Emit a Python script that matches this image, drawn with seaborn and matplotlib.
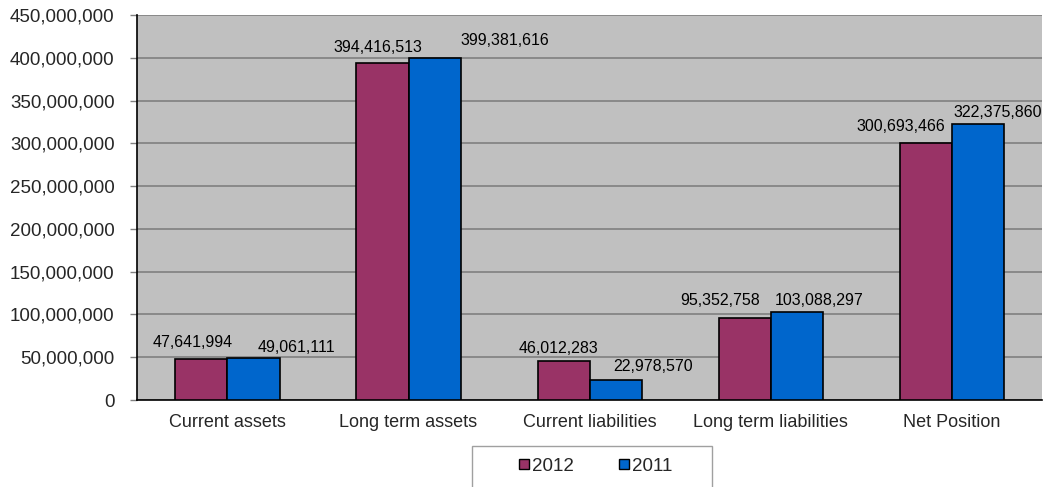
import pandas as pd
import seaborn as sns
import matplotlib.pyplot as plt
from matplotlib.ticker import FuncFormatter, FixedLocator
from matplotlib.patches import Patch, Rectangle

# Data
categories = ["Current assets", "Long term assets", "Current liabilities",
              "Long term liabilities", "Net Position"]
years = ["2012", "2011"]
values_2012 = [47641994, 394416513, 46012283, 95352758, 300693466]
values_2011 = [49061111, 399381616, 22978570, 103088297, 322375860]

df = pd.DataFrame({
    "category": categories * 2,
    "year": [years[0]] * 5 + [years[1]] * 5,
    "value": values_2012 + values_2011,
})

palette = {"2012": "#993366", "2011": "#0066CC"}

# label offsets in pixels (dx, dy) relative to top centre of each bar
label_offsets = {
    "2012": [(-9, 17), (-5, 15), (-5, 12), (-25, 18), (-25, 16)],
    "2011": [(43, 11), (70, 18), (37, 14), (22, 11), (20, 12)],
}

sns.set_style("white")
plt.rcParams['font.family'] = ['Liberation Sans', 'DejaVu Sans']

fig = plt.figure(figsize=(10.43, 4.87), dpi=100)
ax = fig.add_axes([0.1313, 0.1786, 0.868, 0.7906])
ax.set_facecolor("#C0C0C0")

sns.barplot(data=df, x="category", y="value", hue="year", hue_order=years,
            order=categories, palette=palette, width=0.575, saturation=1,
            edgecolor="black", linewidth=1.2, legend=False, ax=ax, zorder=3)

ax.set_ylim(0, 450000000)
ax.set_xlim(-0.5, 4.5)
ax.yaxis.set_major_locator(FixedLocator(range(0, 450000001, 50000000)))
ax.yaxis.set_major_formatter(FuncFormatter(lambda v, p: f"{int(v):,}"))
ax.grid(axis="y", color="#808080", linewidth=1.2, zorder=0)
ax.set_axisbelow(True)

# category separators as ticks
ax.xaxis.set_minor_locator(FixedLocator([i - 0.5 for i in range(6)]))
ax.tick_params(axis="x", which="major", length=0, labelsize=13, pad=10)
ax.tick_params(axis="x", which="minor", length=5, width=1, color="#808080",
               direction="out")
ax.tick_params(axis="y", length=5, width=1, color="#808080", direction="out",
               labelsize=13.5, pad=11, left=True)
ax.set_xlabel("")
ax.set_ylabel("")

for s in ["top", "right"]:
    ax.spines[s].set_visible(False)
ax.spines["left"].set_color("black")
ax.spines["bottom"].set_color("black")
ax.spines["left"].set_linewidth(1.2)
ax.spines["bottom"].set_linewidth(1.2)

# data labels
for container, yr in zip(ax.containers, years):
    for bar, (dx, dy) in zip(container, label_offsets[yr]):
        h = bar.get_height()
        cx = bar.get_x() + bar.get_width() / 2
        ax.annotate(f"{int(h):,}", xy=(cx, h), xytext=(dx, dy),
                    textcoords="offset pixels", ha="center", va="center",
                    fontsize=11.5, color="black", zorder=5)

# legend box (cut off at bottom edge like the original)
fig.patches.append(Rectangle((0.4525, -0.01), 0.2301, 0.0942,
                             transform=fig.transFigure, facecolor="white",
                             edgecolor="#A0A0A0", linewidth=1))

handles = [Patch(facecolor=palette[y], edgecolor="black", label=y) for y in years]
leg = fig.legend(handles=handles, loc="center", bbox_to_anchor=(0.5714, 0.0431),
                 ncol=2, frameon=False, fontsize=13.5,
                 handlelength=0.5, handleheight=0.5, handletextpad=0.2,
                 columnspacing=2.4, borderpad=0)

fig.savefig("out.png", dpi=100)
